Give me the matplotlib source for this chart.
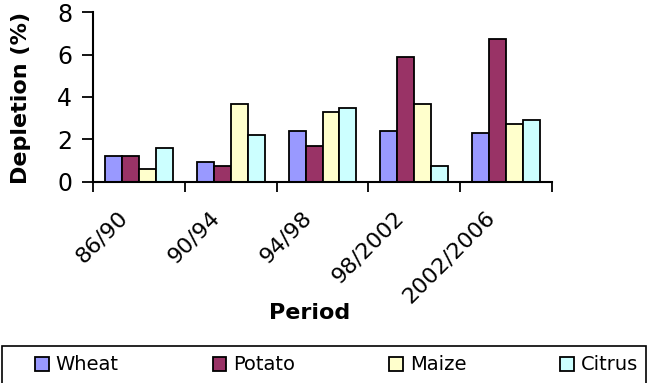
import numpy as np
import matplotlib
matplotlib.use("Agg")
import matplotlib.pyplot as plt
import matplotlib.transforms as mtransforms
from matplotlib.patches import Rectangle

plt.rcParams['font.family'] = ['DejaVu Sans']

periods = ["86/90", "90/94", "94/98", "98/2002", "2002/2006"]
crops = ["Wheat", "Potato", "Maize", "Citrus"]
wheat = [1.2, 0.95, 2.4, 2.4, 2.3]
potato = [1.2, 0.75, 1.7, 5.9, 6.75]
maize = [0.6, 3.65, 3.3, 3.65, 2.75]
citrus = [1.6, 2.2, 3.5, 0.75, 2.9]
colors = ["#9999FF", "#993366", "#FFFFCC", "#CCFFFF"]

W, H = 653, 383
fig = plt.figure(figsize=(W / 100, H / 100), dpi=100)
ax = fig.add_axes([93 / W, 1 - 182 / H, (552 - 93) / W, (182 - 12) / H])

x = np.arange(len(periods)) + 0.5
bw = 0.185
series = [wheat, potato, maize, citrus]
for k, (vals, col, name) in enumerate(zip(series, colors, crops)):
    ax.bar(x + (k - 1.5) * bw, vals, width=bw, color=col,
           edgecolor="black", linewidth=1.3, label=name, zorder=2)

ax.set_xlim(0, len(periods))
ax.set_ylim(0, 8)
ax.set_yticks([0, 2, 4, 6, 8])
ax.tick_params(axis="y", labelsize=17, length=8, width=1.3, direction="out", pad=7)

# tick marks on group boundaries, labels at group centres
ax.set_xticks(np.arange(len(periods) + 1))
ax.set_xticklabels([])
ax.tick_params(axis="x", which="major", length=7, width=1.3, direction="out")
ax.set_xticks(x, minor=True)
ax.set_xticklabels(periods, minor=True, rotation=45, ha="right", va="center",
                   rotation_mode="anchor", fontsize=16)
ax.tick_params(axis="x", which="minor", length=0, pad=23)
shift = mtransforms.ScaledTranslation(-14 / 100, 0, fig.dpi_scale_trans)
for lbl in ax.get_xticklabels(minor=True):
    lbl.set_transform(lbl.get_transform() + shift)

for s in ["top", "right"]:
    ax.spines[s].set_visible(False)
for s in ["left", "bottom"]:
    ax.spines[s].set_linewidth(1.5)

ax.set_ylabel("Depletion (%)", fontsize=16, fontweight="bold")
ax.yaxis.set_label_coords(31 / W, 1 - 98 / H, transform=fig.transFigure)
fig.text(310 / W, 1 - 313 / H, "Period", fontsize=16, fontweight="bold",
         ha="center", va="center")

# legend strip along the bottom edge
fig.patches.append(Rectangle((2 / W, -0.05), 644 / W, 0.05 + 1 - 346 / H,
                             transform=fig.transFigure, fill=False,
                             edgecolor="black", linewidth=1.2))
handles, labels = ax.get_legend_handles_labels()
fig.legend(handles, labels, loc="center left", ncol=4, mode="expand",
           bbox_to_anchor=(35 / W, 1 - 375 / H, 603 / W, 20 / H),
           frameon=False, fontsize=14, handlelength=0.7, handleheight=0.7,
           handletextpad=0.35, borderaxespad=0, borderpad=0)

fig.savefig("out.png", dpi=100)
